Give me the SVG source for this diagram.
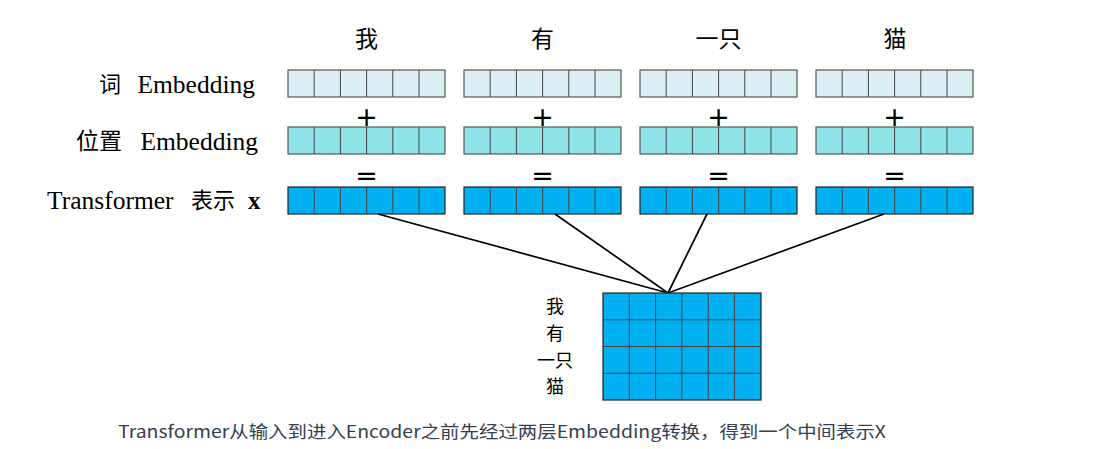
<svg xmlns="http://www.w3.org/2000/svg" width="1098" height="449" viewBox="0 0 1098 449">
<style>
.cjk{font-family:"Noto Sans CJK SC","Noto Sans",sans-serif;fill:#000}
.ser{font-family:"Liberation Serif","Noto Sans CJK SC",serif;fill:#000}
.op{font-family:"DejaVu Sans",sans-serif;font-size:27px;text-anchor:middle;fill:#000}
.r1{fill:#dbeef4;stroke:#555;stroke-width:1.2}
.r2{fill:#8ee3e6;stroke:#555;stroke-width:1.2}
.r3{fill:#00b0f0;stroke:#222;stroke-width:1.2}
.div{fill:none;stroke:#444;stroke-width:1}
.conn{stroke:#000;stroke-width:1.7;fill:none}
.cap{font-family:"Noto Sans CJK SC","Noto Sans",sans-serif;font-size:17px;fill:#34404f}
</style>
<rect width="1098" height="449" fill="#fff"/>

<g id="headers" class="cjk" font-size="23" text-anchor="middle">
<text x="366.5" y="47">我</text>
<text x="542.5" y="47">有</text>
<text x="718.5" y="47">一只</text>
<text x="895" y="47">猫</text>
</g>

<g id="labels">
<text class="cjk" x="99" y="92" font-size="22">词</text>
<text class="ser" x="255" y="93" font-size="25.5" text-anchor="end">Embedding</text>
<text class="cjk" x="76" y="149" font-size="23">位置</text>
<text class="ser" x="258" y="150" font-size="25.5" text-anchor="end">Embedding</text>
<text class="ser" x="47" y="209" font-size="25.5">Transformer</text>
<text class="cjk" x="191" y="208" font-size="22">表示</text>
<text class="ser" x="248" y="209" font-size="25" font-weight="bold">x</text>
</g>

<g id="ops">
<text class="op" x="366.5" y="126">+</text>
<text class="op" x="542.5" y="126">+</text>
<text class="op" x="718.5" y="126">+</text>
<text class="op" x="894.5" y="126">+</text>
<text class="op" x="366.5" y="185">=</text>
<text class="op" x="542.5" y="185">=</text>
<text class="op" x="718.5" y="185">=</text>
<text class="op" x="894.5" y="185">=</text>
</g>

<g id="col1">
<rect class="r1" x="288" y="70" width="157" height="27"/>
<path class="div" d="M314.2,70v27m26.2,-27v27m26.2,-27v27m26.2,-27v27m26.2,-27v27"/>
<rect class="r2" x="288" y="127" width="157" height="27"/>
<path class="div" d="M314.2,127v27m26.2,-27v27m26.2,-27v27m26.2,-27v27m26.2,-27v27"/>
<rect class="r3" x="288" y="187" width="157" height="27"/>
<path class="div" d="M314.2,187v27m26.2,-27v27m26.2,-27v27m26.2,-27v27m26.2,-27v27"/>
</g>
<g id="col2">
<rect class="r1" x="464" y="70" width="157" height="27"/>
<path class="div" d="M490.2,70v27m26.2,-27v27m26.2,-27v27m26.2,-27v27m26.2,-27v27"/>
<rect class="r2" x="464" y="127" width="157" height="27"/>
<path class="div" d="M490.2,127v27m26.2,-27v27m26.2,-27v27m26.2,-27v27m26.2,-27v27"/>
<rect class="r3" x="464" y="187" width="157" height="27"/>
<path class="div" d="M490.2,187v27m26.2,-27v27m26.2,-27v27m26.2,-27v27m26.2,-27v27"/>
</g>
<g id="col3">
<rect class="r1" x="640" y="70" width="157" height="27"/>
<path class="div" d="M666.2,70v27m26.2,-27v27m26.2,-27v27m26.2,-27v27m26.2,-27v27"/>
<rect class="r2" x="640" y="127" width="157" height="27"/>
<path class="div" d="M666.2,127v27m26.2,-27v27m26.2,-27v27m26.2,-27v27m26.2,-27v27"/>
<rect class="r3" x="640" y="187" width="157" height="27"/>
<path class="div" d="M666.2,187v27m26.2,-27v27m26.2,-27v27m26.2,-27v27m26.2,-27v27"/>
</g>
<g id="col4">
<rect class="r1" x="816" y="70" width="157" height="27"/>
<path class="div" d="M842.2,70v27m26.2,-27v27m26.2,-27v27m26.2,-27v27m26.2,-27v27"/>
<rect class="r2" x="816" y="127" width="157" height="27"/>
<path class="div" d="M842.2,127v27m26.2,-27v27m26.2,-27v27m26.2,-27v27m26.2,-27v27"/>
<rect class="r3" x="816" y="187" width="157" height="27"/>
<path class="div" d="M842.2,187v27m26.2,-27v27m26.2,-27v27m26.2,-27v27m26.2,-27v27"/>
</g>

<g id="connectors">
<line class="conn" x1="378" y1="214" x2="668" y2="293"/>
<line class="conn" x1="555" y1="214" x2="668" y2="293"/>
<line class="conn" x1="707" y1="214" x2="668" y2="293"/>
<line class="conn" x1="884" y1="214" x2="668" y2="293"/>
</g>

<g id="matrix">
<rect class="r3" x="603" y="293" width="158" height="107"/>
<path class="div" stroke="#222" d="M629.3,293v107m26.3,-107v107m26.3,-107v107m26.3,-107v107m26.3,-107v107M603,319.75h158M603,346.5h158M603,373.25h158"/>
</g>

<g id="matrix-labels" class="cjk" font-size="18" text-anchor="middle">
<text x="555" y="313">我</text>
<text x="555" y="340">有</text>
<text x="555" y="367">一只</text>
<text x="555" y="393">猫</text>
</g>

<g id="caption">
<text class="cap" x="118" y="438" textLength="768" lengthAdjust="spacingAndGlyphs">Transformer从输入到进入Encoder之前先经过两层Embedding转换，得到一个中间表示X</text>
</g>
</svg>
